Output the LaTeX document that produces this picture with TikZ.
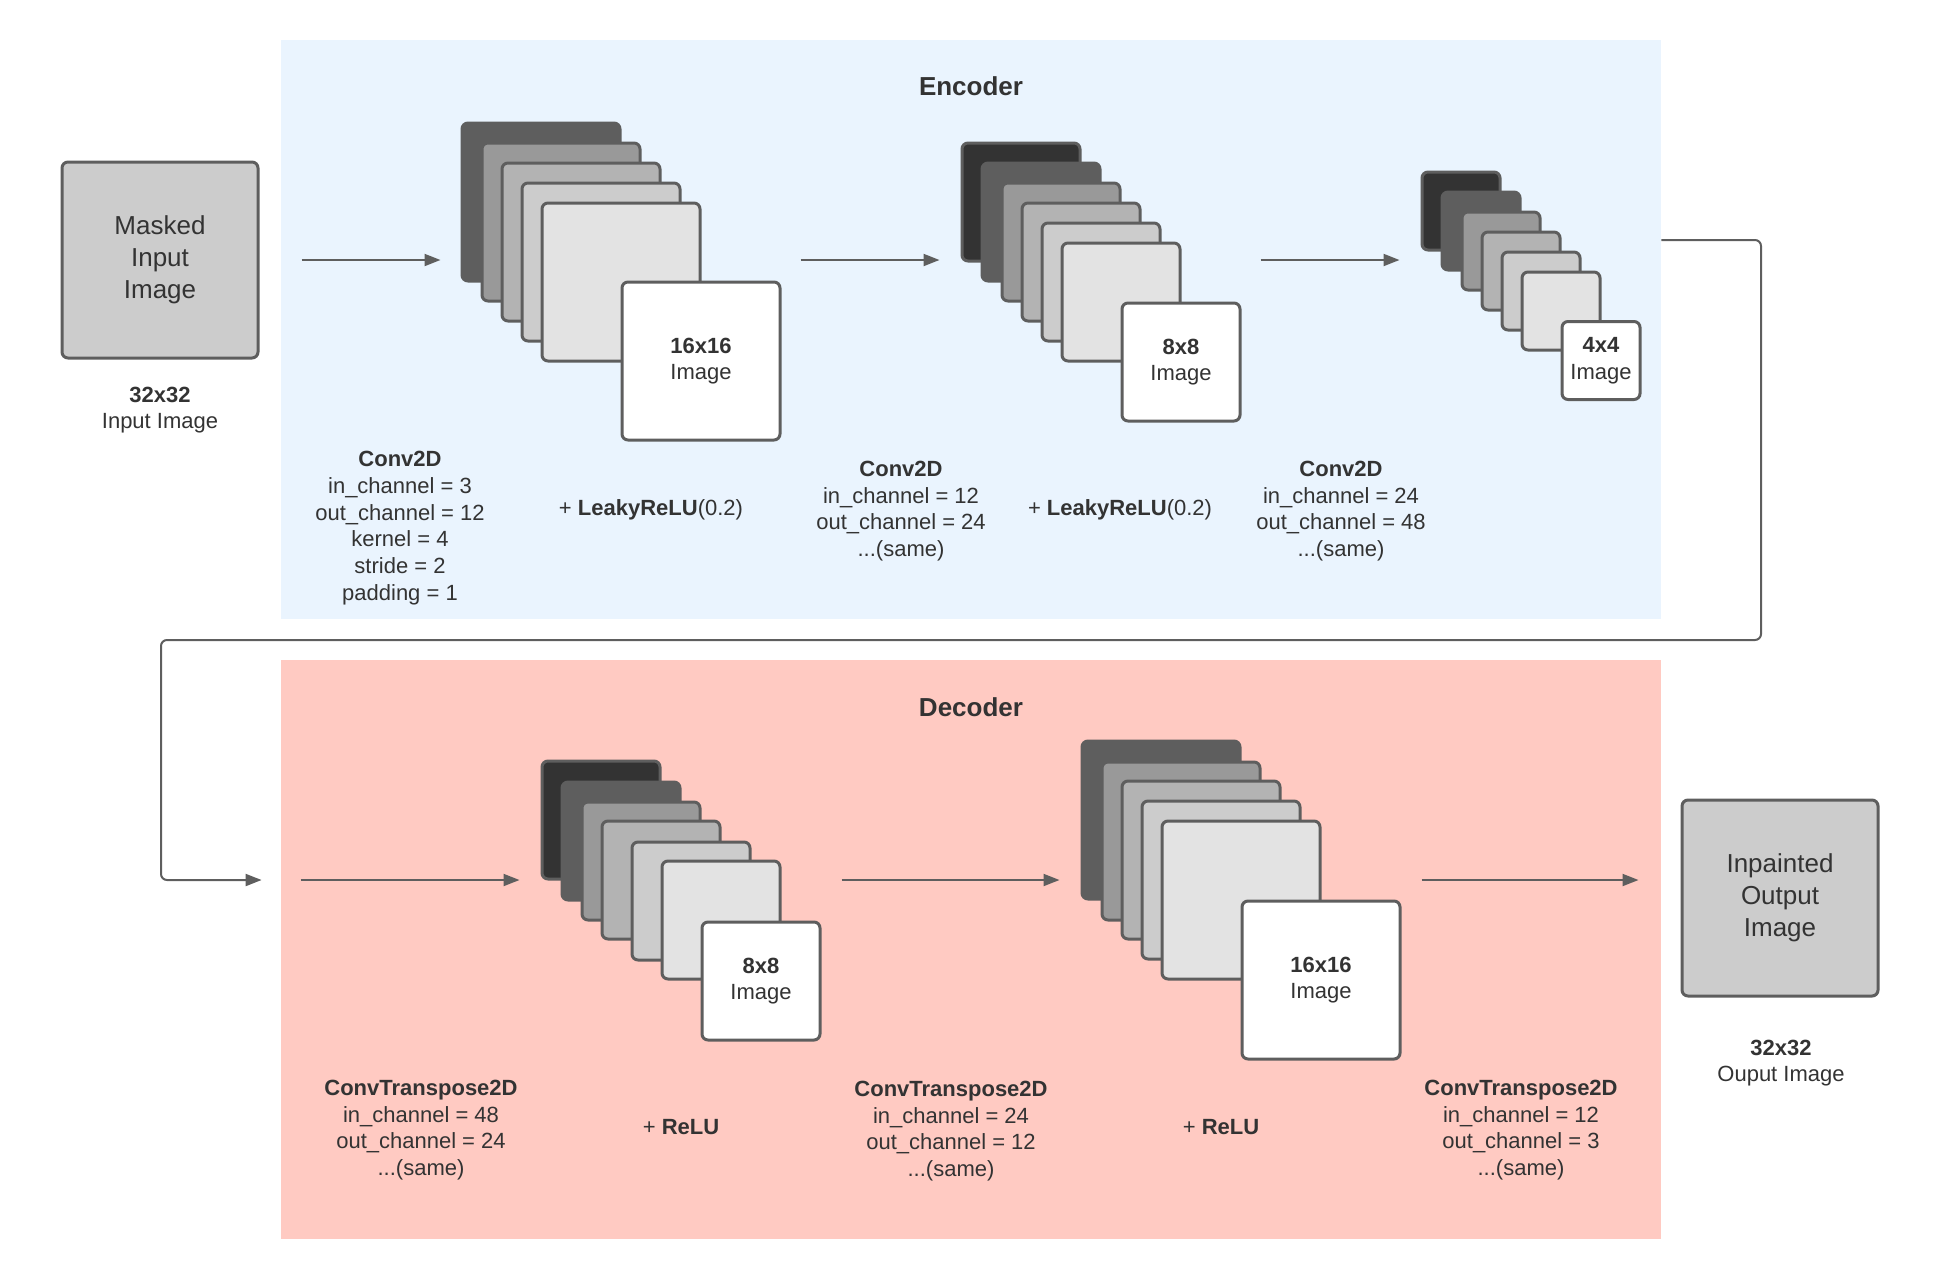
\documentclass[tikz,border=0pt]{standalone}
\usepackage{fontspec}
\setmainfont{Liberation Sans}
\usetikzlibrary{arrows.meta}

\definecolor{ink}{HTML}{333333}
\definecolor{edge}{HTML}{5E5E5E}
\definecolor{encfill}{HTML}{EAF4FE}
\definecolor{decfill}{HTML}{FFCAC2}
\definecolor{g1}{HTML}{333333}
\definecolor{g2}{HTML}{5E5E5E}
\definecolor{g3}{HTML}{999999}
\definecolor{g4}{HTML}{B3B3B3}
\definecolor{g5}{HTML}{CCCCCC}
\definecolor{g6}{HTML}{E3E3E3}

\begin{document}
\begin{tikzpicture}[x=0.5pt, y=-0.5pt,
  lay/.style={draw=edge, line width=1.5pt, rounded corners=3pt, inner sep=0pt,
    align=center, text=ink, font=\fontsize{11}{13.4}\selectfont},
  lay16/.style={lay, minimum size=79pt},
  lay8/.style={lay, minimum size=59pt},
  lay4/.style={lay, minimum size=39pt},
  imgbox/.style={lay, fill=g5, minimum size=98pt, font=\fontsize{13}{16}\selectfont},
  lab/.style={align=center, text=ink, inner sep=0pt, font=\fontsize{11}{13.4}\selectfont},
  title/.style={text=ink, font=\fontsize{13}{16}\selectfont\bfseries},
  band/.style={inner sep=0pt, minimum width=690pt, minimum height=289.5pt},
  arr/.style={draw=edge, line width=1pt, -{Triangle[length=8pt, width=6pt]}}]

\useasboundingbox (0,0) rectangle (1941,1280);

% background bands
\draw (971,329.5) node[band, fill=encfill] (enc) {} ;
\draw (971,949) node[band, fill=decfill] (dec) {} ;

\draw (971,86) node[title] (enctitle) {Encoder} ;
\draw (971,707) node[title] (dectitle) {Decoder} ;

% input and output
\draw (160,260) node[imgbox] (inbox) {Masked\\Input\\Image} ;
\draw (160,410) node[lab] (inlab) {\textbf{32x32}\\Input Image} ;

\draw (1780,898) node[imgbox] (outbox) {Inpainted\\Output\\Image} ;
\draw (1781,1063) node[lab] (outlab) {\textbf{32x32}\\Ouput Image} ;

% encoder, 16x16
\draw (541,202) node[lay16, fill=g2] (e1a) {} ;
\draw (561,222) node[lay16, fill=g3] (e1b) {} ;
\draw (581,242) node[lay16, fill=g4] (e1c) {} ;
\draw (601,262) node[lay16, fill=g5] (e1d) {} ;
\draw (621,282) node[lay16, fill=g6] (e1e) {} ;
\draw (701,361) node[lay16, fill=white] (e1f) {\textbf{16x16}\\Image} ;

% encoder, 8x8
\draw (1021,202) node[lay8, fill=g1] (e2a) {} ;
\draw (1041,222) node[lay8, fill=g2] (e2b) {} ;
\draw (1061,242) node[lay8, fill=g3] (e2c) {} ;
\draw (1081,262) node[lay8, fill=g4] (e2d) {} ;
\draw (1101,282) node[lay8, fill=g5] (e2e) {} ;
\draw (1121,302) node[lay8, fill=g6] (e2f0) {} ;
\draw (1181,362) node[lay8, fill=white] (e2f) {\textbf{8x8}\\Image} ;

% encoder, 4x4
\draw (1461,211) node[lay4, fill=g1] (e3a) {} ;
\draw (1481,231) node[lay4, fill=g2] (e3b) {} ;
\draw (1501,251) node[lay4, fill=g3] (e3c) {} ;
\draw (1521,271) node[lay4, fill=g4] (e3d) {} ;
\draw (1541,291) node[lay4, fill=g5] (e3e) {} ;
\draw (1561,311) node[lay4, fill=g6] (e3f0) {} ;
\draw (1601,360.5) node[lay4, fill=white] (e3f) {\textbf{4x4}\\Image} ;

% decoder, 8x8
\draw (601,820) node[lay8, fill=g1] (d1a) {} ;
\draw (621,841) node[lay8, fill=g2] (d1b) {} ;
\draw (641,861) node[lay8, fill=g3] (d1c) {} ;
\draw (661,880) node[lay8, fill=g4] (d1d) {} ;
\draw (691,901) node[lay8, fill=g5] (d1e) {} ;
\draw (721,920) node[lay8, fill=g6] (d1f0) {} ;
\draw (761,981) node[lay8, fill=white] (d1f) {\textbf{8x8}\\Image} ;

% decoder, 16x16
\draw (1161,820) node[lay16, fill=g2] (d2a) {} ;
\draw (1181,841) node[lay16, fill=g3] (d2b) {} ;
\draw (1201,860) node[lay16, fill=g4] (d2c) {} ;
\draw (1221,880) node[lay16, fill=g5] (d2d) {} ;
\draw (1241,900) node[lay16, fill=g6] (d2e) {} ;
\draw (1321,980) node[lay16, fill=white] (d2f) {\textbf{16x16}\\Image} ;

% layer texts
\draw (400,528) node[lab] (conv1) {\textbf{Conv2D}\\in\_channel = 3\\out\_channel = 12\\kernel = 4\\stride = 2\\padding = 1} ;
\draw (651,510) node[lab] (act1) {+ \textbf{LeakyReLU}(0.2)} ;
\draw (901,511) node[lab] (conv2) {\textbf{Conv2D}\\in\_channel = 12\\out\_channel = 24\\...(same)} ;
\draw (1120,510) node[lab] (act2) {+ \textbf{LeakyReLU}(0.2)} ;
\draw (1341,511) node[lab] (conv3) {\textbf{Conv2D}\\in\_channel = 24\\out\_channel = 48\\...(same)} ;

\draw (421,1130) node[lab] (tconv1) {\textbf{ConvTranspose2D}\\in\_channel = 48\\out\_channel = 24\\...(same)} ;
\draw (681,1127) node[lab] (act3) {+ \textbf{ReLU}} ;
\draw (951,1131) node[lab] (tconv2) {\textbf{ConvTranspose2D}\\in\_channel = 24\\out\_channel = 12\\...(same)} ;
\draw (1221,1127) node[lab] (act4) {+ \textbf{ReLU}} ;
\draw (1521,1130) node[lab] (tconv3) {\textbf{ConvTranspose2D}\\in\_channel = 12\\out\_channel = 3\\...(same)} ;

% arrows
\draw[arr, shorten <=21pt, shorten >=10pt] (inbox.east) -- (inbox.east -| e1a.west) ;
\draw[arr, shorten <=9.5pt, shorten >=10.5pt] (inbox.east -| e1f.east) -- (inbox.east -| e2a.west) ;
\draw[arr, shorten <=9.5pt, shorten >=10.5pt] (inbox.east -| e2f.east) -- (inbox.east -| e3a.west) ;

\draw[arr, rounded corners=3pt, shorten >=9.5pt]
     (enc.east |- 0,240) -| (1761,640) -| (161,880) -- (dec.west |- 0,880) ;

\draw[arr, shorten <=10pt, shorten >=10.5pt] (dec.west |- d1d) -- (d1a.west |- d1d) ;
\draw[arr, shorten <=10pt, shorten >=10.5pt] (d1f.east |- d1d) -- (d2a.west |- d1d) ;
\draw[arr, shorten <=10pt, shorten >=21pt] (d2f.east |- d1d) -- (outbox.west |- d1d) ;
\end{tikzpicture}
\end{document}
